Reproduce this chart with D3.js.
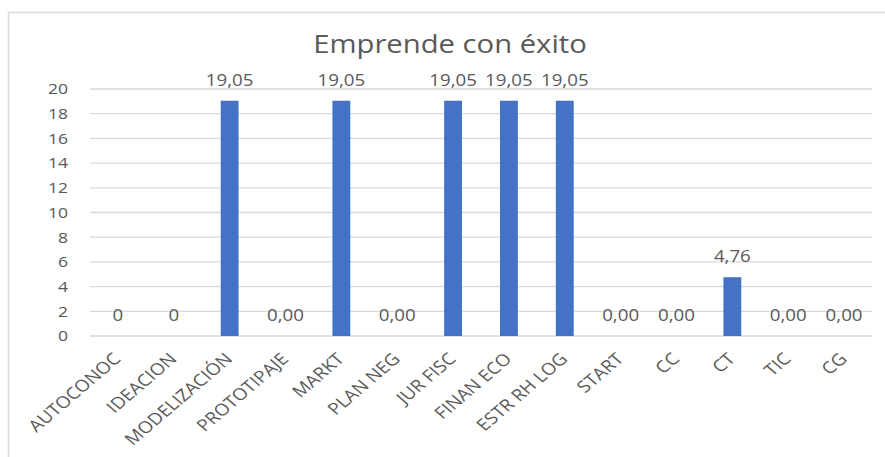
<!DOCTYPE html>
<html><head><meta charset="utf-8">
<script src="https://cdn.jsdelivr.net/npm/d3@7"></script>
<style>body{margin:0;background:#fff}svg{display:block}text{font-family:"Open Sans",sans-serif;fill:#595959}</style>
</head><body><svg id="c" width="885" height="457"></svg>
<script>
const title = "Emprende con éxito";
const categories = ["AUTOCONOC","IDEACION","MODELIZACIÓN","PROTOTIPAJE","MARKT","PLAN NEG","JUR FISC","FINAN ECO","ESTR RH LOG","START","CC","CT","TIC","CG"];
const values = [0,0,19.05,0,19.05,0,19.05,19.05,19.05,0,0,4.76,0,0];
const valueLabels = ["0","0","19,05","0,00","19,05","0,00","19,05","19,05","19,05","0,00","0,00","4,76","0,00","0,00"];
const yTicks = [0,2,4,6,8,10,12,14,16,18,20];

const sx = 1.17; // horizontal stretch of the reference image
const svg = d3.select("#c");
const W = 885, H = 457;
const m = {left: 90, right: 13, top: 89, bottom: 121};

// chart border (cropped at right/bottom)
svg.append("path").attr("d", `M8.5,${H} V12.5 H${W}`).attr("fill","none").attr("stroke","#d9d9d9").attr("stroke-width",1.5);

const x = d3.scaleBand().domain(categories).range([m.left, W - m.right]).paddingInner(0.68).paddingOuter(0.34);
const y = d3.scaleLinear().domain([0,20]).range([H - m.bottom, m.top]);

// gridlines
svg.append("g").selectAll("line").data(yTicks).join("line")
  .attr("x1", m.left).attr("x2", W - m.right)
  .attr("y1", d => y(d)).attr("y2", d => y(d))
  .attr("stroke", "#d9d9d9").attr("stroke-width", 1.3);

// y axis labels
const yAxis = d3.axisLeft(y).tickValues(yTicks).tickSize(0).tickPadding(0).tickFormat(d3.format("d"));
const gy = svg.append("g").attr("transform", `translate(${m.left - 22},0)`).call(yAxis);
gy.select(".domain").remove();
gy.selectAll(".tick text").attr("font-size", 15).attr("font-family", null).attr("fill", "#595959")
  .attr("x", 0).attr("transform", `scale(${sx},1)`);

// bars
svg.append("g").selectAll("rect").data(values).join("rect")
  .attr("x", (d,i) => x(categories[i])).attr("width", x.bandwidth())
  .attr("y", d => y(d)).attr("height", d => y(0) - y(d))
  .attr("fill", "#4472c4");

// value labels
svg.append("g").selectAll("text").data(valueLabels).join("text")
  .attr("text-anchor", "middle").attr("font-size", 16)
  .attr("transform", (d,i) => `translate(${x(categories[i]) + x.bandwidth()/2},${y(values[i]) - 15}) scale(${sx},1)`)
  .text(d => d);

// x axis labels
const xAxis = d3.axisBottom(x).tickSize(0).tickPadding(0);
const gx = svg.append("g").attr("transform", `translate(0,${y(0)})`).call(xAxis);
gx.select(".domain").remove();
gx.selectAll(".tick text").attr("font-size", 16.5).attr("font-family", null).attr("fill", "#595959")
  .attr("text-anchor", "end").attr("dy", null).attr("y", null).attr("x", null)
  .attr("transform", `translate(4,24) scale(${sx},1) rotate(-45)`);

// title
svg.append("text").attr("text-anchor", "middle").attr("font-size", 25)
  .attr("transform", `translate(450,53) scale(${sx},1)`).text(title);
</script></body></html>
